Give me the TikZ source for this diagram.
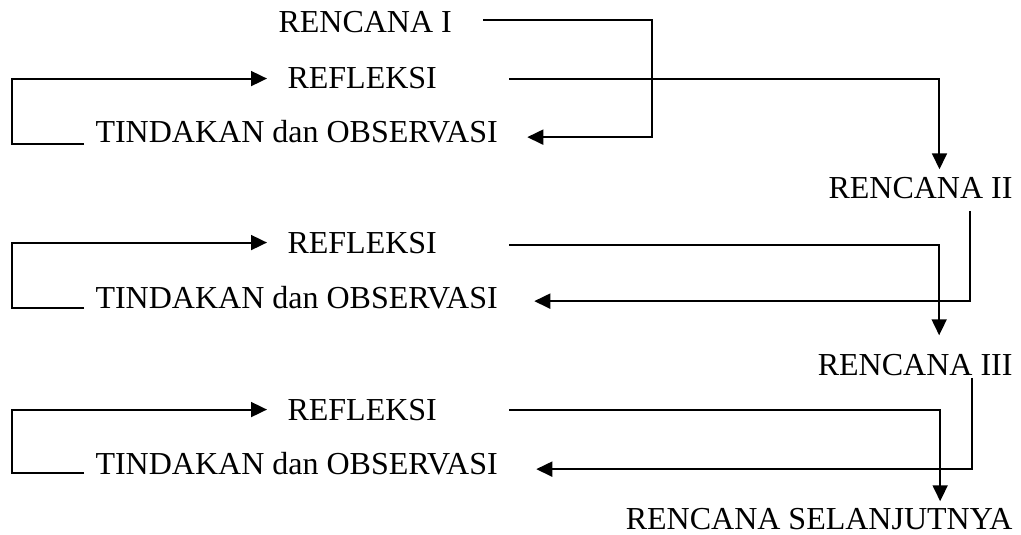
\documentclass[tikz,border=0pt]{standalone}
\usepackage{fontspec}
\setmainfont{Liberation Serif}
\usetikzlibrary{arrows.meta, calc}

\begin{document}
\begin{tikzpicture}[
    x=0.375pt, y=-0.375pt,
    step label/.style={
        inner sep=0pt,
        anchor=base west,
        font=\fontsize{12}{14}\selectfont
    },
    plan label/.style={
        step label,
        anchor=base east
    },
    flow/.style={
        -{Triangle[length=6pt, width=5.6pt]},
        line width=0.75pt,
        black
    }
]
\useasboundingbox (0,0) rectangle (1021,534);

% Siklus I
\node[step label] (r1)   at (278,33)  {RENCANA I};
\node[step label] (ref1) at (287,89)  {REFLEKSI};
\node[step label] (tin1) at (95,143)  {TINDAKAN dan OBSERVASI};

% Siklus II
\node[plan label] (r2)   at (1013,199) {RENCANA II};
\node[step label] (ref2) at (287,253)  {REFLEKSI};
\node[step label] (tin2) at (95,308)   {TINDAKAN dan OBSERVASI};

% Siklus III
\node[plan label] (r3)   at (1013,375) {RENCANA III};
\node[step label] (ref3) at (287,420)  {REFLEKSI};
\node[step label] (tin3) at (95,474)   {TINDAKAN dan OBSERVASI};

\node[plan label] (rs)   at (1013,529) {RENCANA SELANJUTNYA};

% Rencana ke tindakan
\draw[flow] ($(r1.east)+(31,-3)$) -- ++(169,0) |- ($(tin1.east)+(29,5)$);
\draw[flow] ($(r2.south)+(50,11)$) |- ($(tin2.east)+(36,4)$);
\draw[flow] ($(r3.south)+(57,2)$) |- ($(tin3.east)+(38,6)$);

% Tindakan ke refleksi
\draw[flow] ($(tin1.west)+(-11,12)$) -- ++(-72,0) |- ($(ref1.west)+(-20,0)$);
\draw[flow] ($(tin2.west)+(-11,11)$) -- ++(-72,0) |- ($(ref2.west)+(-20,0)$);
\draw[flow] ($(tin3.west)+(-11,10)$) -- ++(-72,0) |- ($(ref3.west)+(-20,0)$);

% Refleksi ke rencana berikutnya
\draw[flow] ($(ref1.east)+(72,0)$) -| ($(r2.north)+(19,-8)$);
\draw[flow] ($(ref2.east)+(72,2)$) -| ($(r3.north)+(24,-18)$);
\draw[flow] ($(ref3.east)+(72,0)$) -| ($(rs.north)+(121,-6)$);

\end{tikzpicture}
\end{document}
